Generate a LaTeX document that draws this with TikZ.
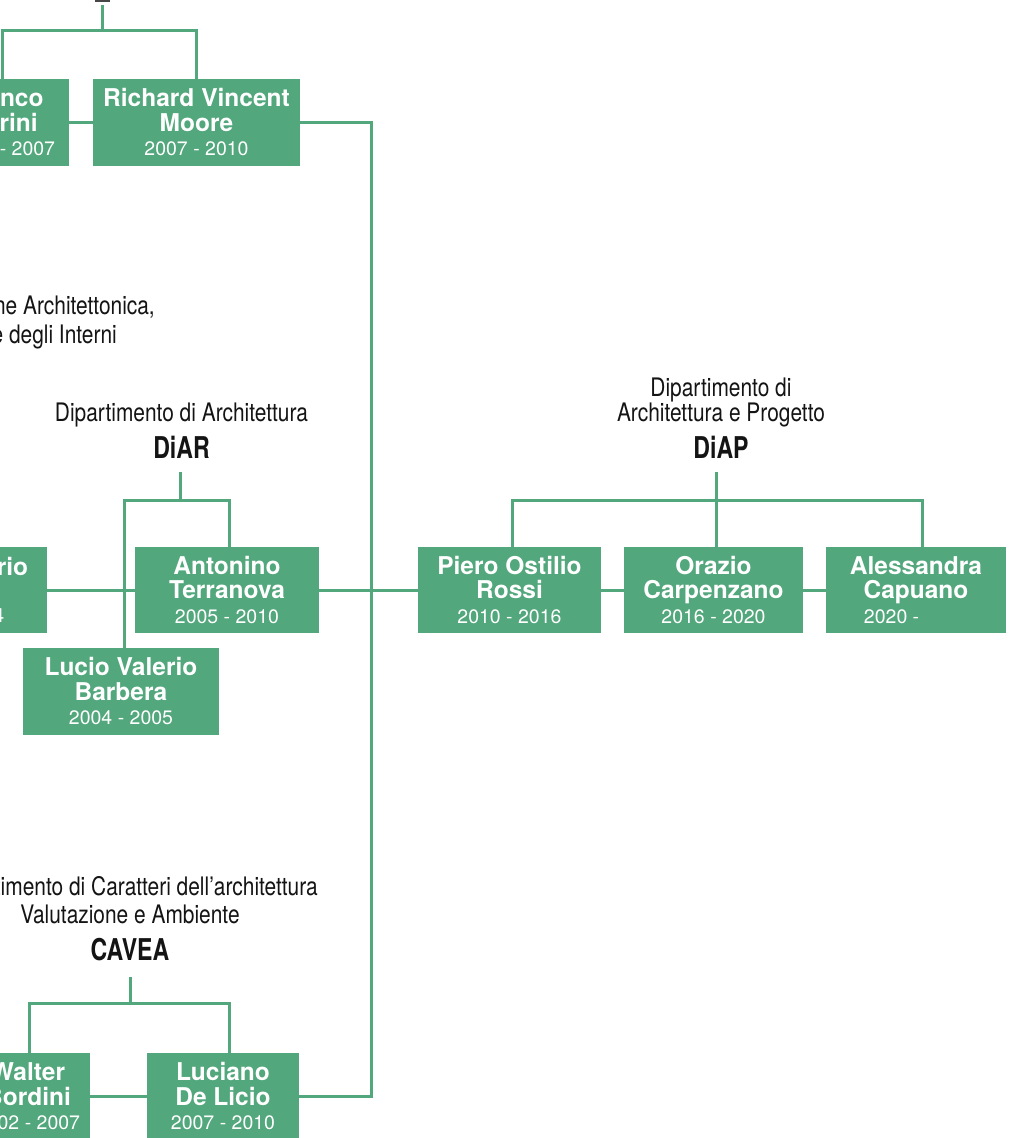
\documentclass[tikz,border=0pt]{standalone}
\usepackage{fontspec}
\setmainfont{TeX Gyre Heros}
\newfontfamily\condfont[FakeStretch=0.82]{TeX Gyre Heros}
\newfontfamily\condbold[FakeStretch=0.77]{TeX Gyre Heros}
\definecolor{dgreen}{RGB}{82,167,124}
\definecolor{ink}{RGB}{20,20,20}
\newcommand\yrs[1]{{\fontsize{19.5}{24.5}\selectfont\mdseries #1}}
\begin{document}
\begin{tikzpicture}[x=1pt,y=-1pt,
  box/.style={fill=dgreen, inner sep=0pt, text=white, align=center,
    font=\fontsize{24.5}{24.5}\selectfont\bfseries},
  conn/.style={draw=dgreen, line width=3pt, line join=miter},
  hdr/.style={font=\condfont\fontsize{25.5}{26}\selectfont, inner sep=0pt, text=ink},
  hdrb/.style={font=\condbold\bfseries\fontsize{30}{30}\selectfont, inner sep=0pt, text=ink},
  frag/.style={inner sep=0pt, text=white, anchor=base east},
]
\useasboundingbox (0,0) rectangle (1011,1138);
\fill[white] (0,0) rectangle (1011,1138);
\clip (0,0) rectangle (1011,1138);

% fragment of text above the picture
\fill[black!72] (95,0) rectangle (110,1.6);

% ---------- top group ----------
\node[box, minimum width=132pt, minimum height=87pt] (purini) at (3,122.5) {Franco\\Purini\\\yrs{2002 - 2007}};
\node[box, minimum width=207pt, minimum height=87pt] (moore) at (196.5,122.5) {Richard Vincent\\Moore\\\yrs{2007 - 2010}};
\coordinate (topstart) at (102,5);
\coordinate (tj) at (102,30);
\draw[conn] (topstart) -- (tj);
\draw[conn] ([xshift=-1pt]purini.north) |- (tj) -| (moore.north);
\draw[conn] (purini.east) -- (moore.west);

\node[hdr, anchor=base east] (pa1) at (155,314) {ne Architettonica,};
\node[hdr, anchor=base east] (pa2) at (117,343) {e degli Interni};

% ---------- DiAR ----------
\node[hdr, anchor=base] (diar1) at (181.5,421.7) {Dipartimento di Architettura};
\node[hdrb, anchor=base] (diar) at (181.5,458.3) {DiAR};
\node[box, minimum width=147pt, minimum height=86pt] (riobox) at (-26.5,590) {};
\node[frag, font=\fontsize{24.5}{24.5}\selectfont\bfseries] (rio1) at (28.3,575) {rio};
\node[frag, font=\fontsize{19.5}{24.5}\selectfont] (rio3) at (4.3,622) {4};
\node[box, minimum width=184pt, minimum height=86pt] (antonino) at (227,590) {Antonino\\Terranova\\\yrs{2005 - 2010}};
\node[box, minimum width=196pt, minimum height=87pt] (lucio) at (121,691.5) {Lucio Valerio\\Barbera\\\yrs{2004 - 2005}};
\coordinate (diartop) at (180,472);
\coordinate (diarj) at (180,500);
\draw[conn] (diartop) -- (diarj);
\draw[conn] ([xshift=3pt]lucio.north) |- (diarj) -| ([xshift=2pt]antonino.north);
\draw[conn] (riobox.east) -- (antonino.west);

% ---------- DiAP ----------
\node[hdr, anchor=base] (diap1) at (721,396) {Dipartimento di};
\node[hdr, anchor=base] (diap2) at (721,421.7) {Architettura e Progetto};
\node[hdrb, anchor=base] (diap) at (721,458.3) {DiAP};
\node[box, minimum width=183pt, minimum height=86pt] (piero) at (509.5,590) {Piero Ostilio\\Rossi\\\yrs{2010 - 2016}};
\node[box, minimum width=179pt, minimum height=86pt] (orazio) at (713.5,590) {Orazio\\Carpenzano\\\yrs{2016 - 2020}};
\node[box, minimum width=180pt, minimum height=86pt] (alessandra) at (916,590) {Alessandra\\Capuano\\\yrs{2020 -\phantom{ 2020}}};
\coordinate (diaptop) at (716,472);
\coordinate (diapj) at (716,500);
\draw[conn] (diaptop) -- ([xshift=2.5pt]orazio.north);
\draw[conn] ([xshift=2.5pt]piero.north) |- (diapj) -| ([xshift=6pt]alessandra.north);
\draw[conn] (antonino.east) -- (piero.west);
\draw[conn] (piero.east) -- (orazio.west);
\draw[conn] (orazio.east) -- (alessandra.west);

% ---------- CAVEA ----------
\node[hdr, anchor=base east] (cav1) at (318,895) {Dipartimento di Caratteri dell’architettura};
\node[hdr, anchor=base] (cav2) at (130,923.3) {Valutazione e Ambiente};
\node[hdrb, anchor=base] (cavea) at (130,960) {CAVEA};
\node[box, minimum width=124pt, minimum height=87pt] (bordini) at (28,1096.5) {Walter\\Bordini\\\yrs{2002 - 2007}};
\node[box, minimum width=152pt, minimum height=87pt] (delicio) at (223,1096.5) {Luciano\\De Licio\\\yrs{2007 - 2010}};
\coordinate (cavtop) at (130,977);
\coordinate (cavj) at (130,1003);
\draw[conn] (cavtop) -- (cavj);
\draw[conn] ([xshift=1pt]bordini.north) |- (cavj) -| ([xshift=6pt]delicio.north);
\draw[conn] (bordini.east) -- (delicio.west);

% ---------- spine ----------
\coordinate (spine) at (371,1096.5);
\draw[conn] (moore.east) -| (spine) -- (delicio.east);
\end{tikzpicture}
\end{document}
